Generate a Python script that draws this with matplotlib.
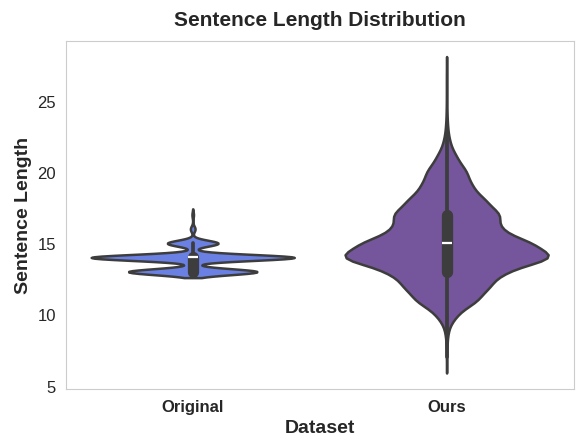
import numpy as np
import pandas as pd
import matplotlib
matplotlib.use("Agg")
import matplotlib.pyplot as plt
import seaborn as sns

# sentence lengths and how many sentences have each length
datasets = ["Original", "Ours"]
lengths_orig = [13, 14, 15, 16, 17]
counts_orig = [165, 260, 65, 6, 2]
lengths_ours = [7, 8, 9, 10, 11, 12, 13, 14, 15, 16, 17, 18, 19, 20, 21, 22, 23, 24, 25, 26, 27]
counts_ours = [1, 2, 8, 45, 140, 190, 250, 490, 375, 225, 240, 170, 110, 90, 45, 15, 5, 2, 1, 1, 1]
colors = ["#6a80e3", "#75559b"]

orig = np.repeat(lengths_orig, counts_orig)
ours = np.repeat(lengths_ours, counts_ours)
df = pd.DataFrame({
    "Dataset": ["Original"] * len(orig) + ["Ours"] * len(ours),
    "Sentence Length": np.concatenate([orig, ours]),
})

sns.set_style("white")
plt.rcParams["font.family"] = ["Liberation Sans", "DejaVu Sans"]

fig, ax = plt.subplots(figsize=(5.77, 4.39), dpi=100)
sns.violinplot(data=df, x="Dataset", y="Sentence Length", hue="Dataset",
               order=datasets, palette=colors, saturation=1, legend=False,
               density_norm="width", inner="box", linewidth=1.8,
               linecolor="#3d3d3d", ax=ax)

ax.set_title("Sentence Length Distribution", fontsize=15, fontweight="bold", pad=11)
ax.set_xlabel("Dataset", fontsize=14, fontweight="bold")
ax.set_ylabel("Sentence Length", fontsize=14, fontweight="bold")
ax.tick_params(axis="x", labelsize=12)
ax.tick_params(axis="y", labelsize=12)
for lbl in ax.get_xticklabels():
    lbl.set_fontweight("bold")
ax.set_yticks([5, 10, 15, 20, 25])
for s in ax.spines.values():
    s.set_color("#cccccc")

fig.subplots_adjust(left=0.114, right=0.994, bottom=0.112, top=0.905)
fig.savefig("out.png", dpi=100)
